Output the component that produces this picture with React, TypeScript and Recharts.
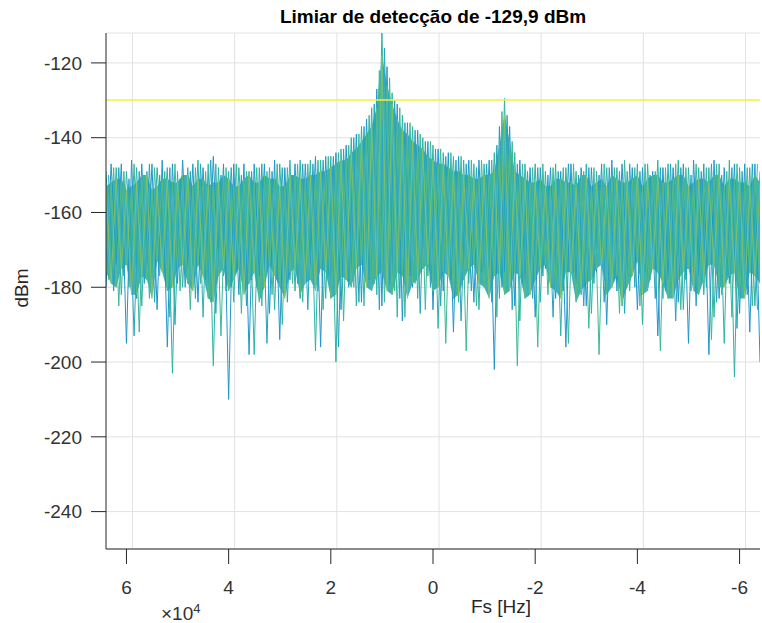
import { ComposedChart, Line, Area, XAxis, YAxis, CartesianGrid, ReferenceLine } from "recharts";

// detection threshold drawn as the yellow line
const THRESHOLD_DBM = -129.9;

// FFT bins, 1 kHz apart, from +64 kHz down to -64 kHz
const freqHz = Array.from({ length: 129 }, (_, i) => 64000 - 1000 * i);
// second set of traces sits half a bin over (63.5 kHz ... -63.5 kHz)
const freqHalfHz = Array.from({ length: 128 }, (_, j) => 63500 - 1000 * j);
const X_MIN = -64000;
const X_MAX = 64000;

const xTicks = [60000, 40000, 20000, 0, -20000, -40000, -60000];
const yTicks = [-240, -220, -200, -180, -160, -140, -120];

// spectrum traces in dBm, one value per bin (f = 64 kHz ... -64 kHz)
const traceA = [
  -149, -176, -148, -182, -149, -171, -148, -185,
  -149, -178, -148, -169, -148, -203, -149, -180,
  -148, -174, -146, -188, -147, -201, -148, -177,
  -149, -184, -148, -172, -149, -198, -148, -179,
  -148, -186, -147, -173, -146, -181, -146, -176,
  -146, -197, -146, -183, -145, -200, -143, -178,
  -140, -185, -137, -174, -132, -182, -111, -176,
  -128, -188, -134, -172, -137, -183, -140, -177,
  -142, -191, -144, -174, -145, -184, -146, -179,
  -147, -186, -147, -175, -144, -183, -129.5, -177,
  -144, -189, -147, -173, -147, -184, -149, -178,
  -147, -193, -148, -175, -149, -182, -147, -187,
  -149, -174, -148, -180, -148, -185, -149, -177,
  -147, -190, -147, -174, -146, -183, -147, -179,
  -146, -186, -148, -176, -148, -182, -148, -188,
  -147, -195, -146, -204, -148, -181, -148, -185,
  -149,
];

const traceB = [
  -180, -147, -174, -147, -195, -146, -183, -147,
  -177, -147, -186, -146, -196, -147, -179, -146,
  -175, -147, -184, -148, -181, -145, -176, -147,
  -210, -147, -182, -147, -198, -147, -177, -147,
  -187, -146, -194, -148, -178, -147, -183, -147,
  -175, -145, -196, -145, -181, -144, -186, -142,
  -176, -139, -184, -135, -179, -127, -185, -121,
  -177, -131, -189, -136, -180, -138, -175, -141,
  -186, -143, -181, -144, -192, -145, -177, -146,
  -184, -146, -179, -146, -202, -137, -176, -137,
  -185, -146, -180, -148, -188, -148, -175, -148,
  -183, -149, -196, -147, -179, -148, -185, -148,
  -176, -147, -190, -146, -181, -147, -177, -148,
  -186, -148, -180, -149, -193, -148, -178, -148,
  -184, -147, -195, -146, -177, -147, -198, -146,
  -183, -148, -179, -147, -187, -147, -192, -147,
  -200,
];

const traceC = [
  -176, -152, -180, -151, -174, -153, -182, -150,
  -178, -154, -173, -151, -181, -152, -175, -150,
  -179, -153, -174, -151, -183, -152, -177, -150,
  -181, -153, -175, -151, -179, -152, -184, -150,
  -174, -151, -180, -153, -176, -150, -182, -151,
  -178, -150, -175, -149, -183, -147, -177, -146,
  -180, -143, -174, -139, -181, -132, -176, -126,
  -182, -135, -177, -139, -179, -142, -175, -145,
  -181, -147, -176, -148, -183, -149, -178, -150,
  -174, -151, -180, -150, -177, -142, -182, -141,
  -176, -150, -183, -152, -178, -151, -174, -153,
  -181, -151, -176, -152, -184, -150, -179, -153,
  -175, -151, -182, -150, -177, -152, -180, -151,
  -173, -153, -181, -150, -176, -152, -183, -151,
  -178, -150, -175, -152, -182, -151, -174, -150,
  -180, -153, -177, -151, -183, -152, -176, -150,
  -179,
];

const traceD = [
  -153, -179, -151, -175, -154, -182, -152, -177,
  -150, -183, -153, -176, -151, -180, -152, -174,
  -150, -181, -151, -177, -153, -184, -152, -175,
  -151, -178, -153, -182, -150, -176, -152, -180,
  -151, -177, -153, -183, -150, -175, -151, -179,
  -150, -181, -149, -176, -148, -182, -146, -178,
  -144, -175, -141, -180, -137, -177, -118, -181,
  -131, -176, -138, -183, -141, -178, -143, -174,
  -146, -180, -147, -177, -149, -182, -150, -175,
  -151, -179, -150, -183, -149, -176, -134, -181,
  -149, -177, -151, -182, -152, -175, -153, -180,
  -151, -183, -152, -176, -153, -181, -150, -178,
  -152, -174, -153, -180, -151, -184, -152, -177,
  -150, -182, -151, -175, -150, -179, -152, -183,
  -150, -176, -153, -181, -151, -178, -152, -174,
  -150, -180, -151, -176, -152, -183, -153, -177,
  -152,
];

// half-bin traces (f = 63.5 kHz ... -63.5 kHz)
const traceE = [
  -150, -181, -148, -177, -151, -193, -149, -179,
  -147, -184, -150, -176, -148, -190, -151, -180,
  -149, -183, -147, -178, -146, -187, -150, -181,
  -148, -176, -150, -185, -149, -180, -147, -195,
  -149, -178, -148, -184, -150, -179, -147, -186,
  -147, -181, -146, -177, -145, -196, -143, -180,
  -140, -184, -137, -178, -131, -186, -116, -179,
  -130, -183, -136, -177, -138, -187, -141, -180,
  -143, -185, -145, -178, -146, -189, -147, -181,
  -148, -176, -147, -184, -142, -180, -134, -186,
  -147, -179, -149, -183, -148, -177, -150, -188,
  -149, -181, -147, -176, -150, -185, -148, -179,
  -150, -184, -148, -178, -149, -187, -147, -180,
  -149, -176, -150, -183, -148, -181, -147, -189,
  -148, -178, -150, -185, -149, -180, -147, -184,
  -150, -177, -148, -191, -149, -182, -147, -186,
];

const traceF = [
  -178, -148, -185, -149, -180, -147, -192, -150,
  -183, -148, -177, -149, -188, -147, -181, -150,
  -186, -148, -179, -149, -184, -147, -193, -148,
  -180, -147, -187, -149, -178, -148, -185, -149,
  -182, -147, -190, -148, -179, -147, -184, -147,
  -178, -146, -186, -145, -181, -144, -189, -142,
  -180, -139, -185, -134, -179, -122, -184, -124,
  -181, -132, -188, -136, -179, -139, -186, -141,
  -177, -143, -195, -144, -182, -145, -197, -146,
  -185, -146, -178, -146, -188, -133, -181, -141,
  -201, -147, -179, -148, -196, -147, -182, -148,
  -177, -148, -195, -147, -180, -149, -191, -148,
  -198, -147, -179, -148, -187, -146, -181, -148,
  -185, -147, -178, -149, -197, -148, -180, -147,
  -186, -148, -181, -147, -179, -148, -194, -147,
  -182, -149, -188, -147, -180, -148, -185, -147,
];

// the dense core of the overlapping traces: band between traces C and D
const data = freqHz.map((f, i) => ({
  f,
  a: traceA[i],
  b: traceB[i],
  c: traceC[i],
  d: traceD[i],
  core: [Math.min(traceC[i], traceD[i]), Math.max(traceC[i], traceD[i])],
}));

const halfData = freqHalfHz.map((f, j) => ({ f, e: traceE[j], g: traceF[j] }));

const FONT = "'Liberation Sans', Arial, Helvetica, sans-serif";
const tickStyle = { fill: "#333", fontSize: 19, fontFamily: FONT };

// vertical grid sits a few px right of the tick marks in the original render
const gridX = ({ offset }: any) => {
  if (!offset || typeof offset.left !== "number") return [];
  return xTicks.map((t) => offset.left + ((X_MAX - t) / (X_MAX - X_MIN)) * offset.width + 6);
};

export default function App() {
  return (
    <div style={{ position: "absolute", left: 0, top: 0, width: 762, height: 623, fontFamily: FONT }}>
      <ComposedChart width={762} height={623} data={data} margin={{ top: 33, right: 2, bottom: 0, left: 0 }}>
        <CartesianGrid stroke="#e2e2e2" verticalCoordinatesGenerator={gridX} />
        <XAxis
          dataKey="f"
          type="number"
          domain={[X_MIN, X_MAX]}
          reversed
          allowDataOverflow
          ticks={xTicks}
          tickFormatter={(v: number) => String(v / 10000)}
          height={74}
          tickSize={15}
          tickMargin={17}
          stroke="#262626"
          tick={tickStyle}
        />
        <YAxis
          type="number"
          domain={[-250, -112]}
          allowDataOverflow
          ticks={yTicks}
          width={106}
          tickSize={15}
          tickMargin={9}
          stroke="#262626"
          tick={tickStyle}
        />
        <Area
          dataKey="core"
          type="linear"
          stroke="none"
          fill="#2eaab2"
          fillOpacity={0.9}
          isAnimationActive={false}
        />
        <Line data={halfData} dataKey="g" stroke="#3db895" strokeWidth={1} dot={false} isAnimationActive={false} />
        <Line dataKey="b" stroke="#2196cc" strokeWidth={1} dot={false} isAnimationActive={false} />
        <Line data={halfData} dataKey="e" stroke="#25a3bf" strokeWidth={1} dot={false} isAnimationActive={false} />
        <Line dataKey="a" stroke="#2db3a6" strokeWidth={1} dot={false} isAnimationActive={false} />
        <Line dataKey="c" stroke="#56bd83" strokeWidth={1} dot={false} isAnimationActive={false} />
        <Line dataKey="d" stroke="#95c659" strokeWidth={0.9} strokeOpacity={0.8} dot={false} isAnimationActive={false} />
        <ReferenceLine y={THRESHOLD_DBM} stroke="#f2f23c" strokeWidth={1.5} />
      </ComposedChart>
      <div style={{ position: "absolute", left: 0, width: 866, top: 6, textAlign: "center", fontSize: 19, fontWeight: "bold", color: "#000" }}>
        Limiar de detecção de -129,9 dBm
      </div>
      <div style={{ position: "absolute", left: 22, top: 288, transform: "translate(-50%, -50%) rotate(-90deg)", fontSize: 19, color: "#262626" }}>
        dBm
      </div>
      <div style={{ position: "absolute", left: 501, top: 607, transform: "translate(-50%, -50%)", fontSize: 19, color: "#262626", whiteSpace: "nowrap" }}>
        Fs [Hz]
      </div>
      <div style={{ position: "absolute", left: 161, top: 601, fontSize: 19, color: "#333", whiteSpace: "nowrap" }}>
        ×10<sup style={{ fontSize: 13, verticalAlign: 7 }}>4</sup>
      </div>
    </div>
  );
}
